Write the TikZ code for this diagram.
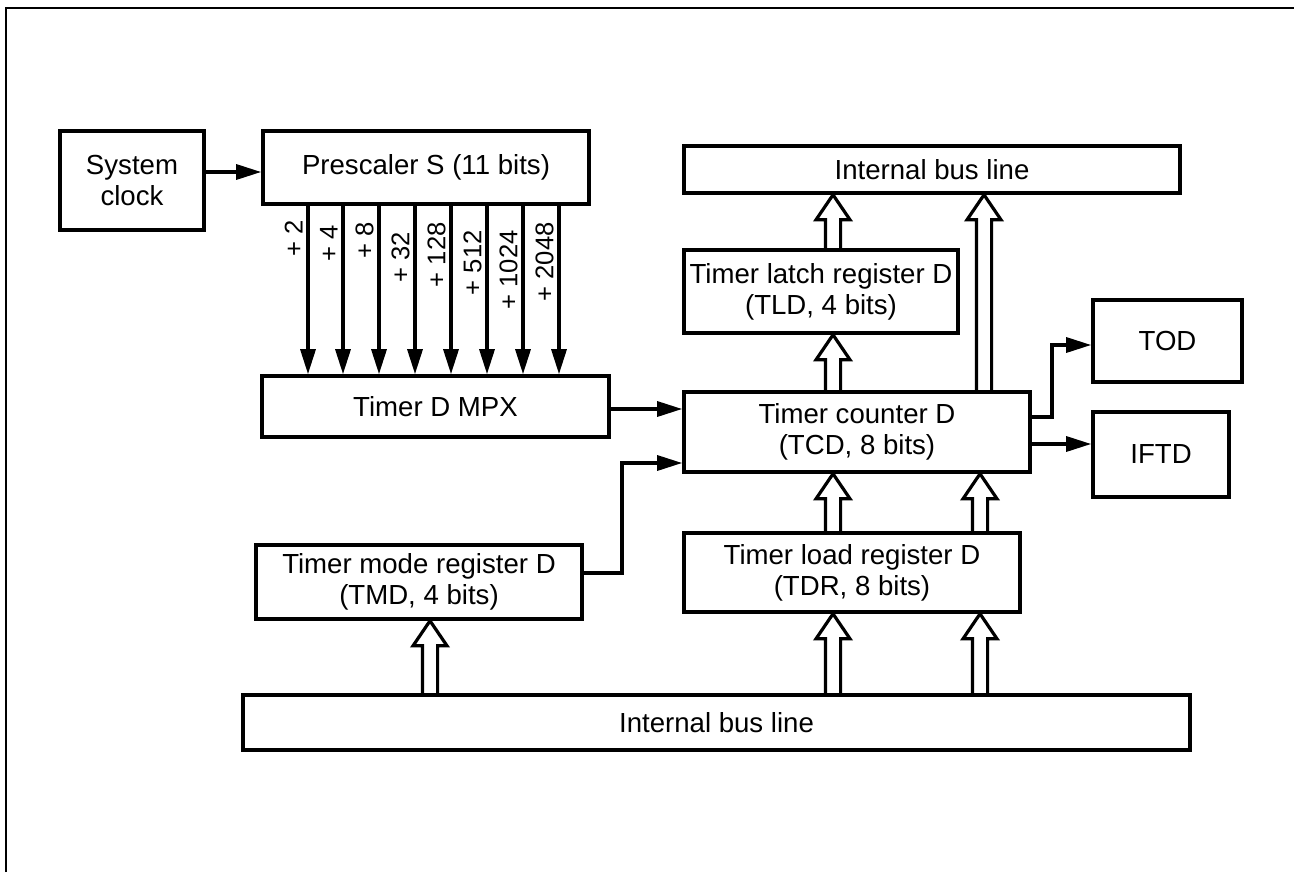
\documentclass[tikz,border=0pt]{standalone}
\usepackage{fontspec}
\setmainfont{Liberation Sans}
\usetikzlibrary{arrows.meta,calc}
\tikzset{
  box/.style={draw, line width=1.8pt, align=center, inner sep=0pt,
    font=\fontsize{13.8}{15.5}\selectfont},
  arr/.style={line width=1.6pt, -{Triangle[length=12.5pt,width=7.5pt]}},
  fat/.style={line width=1.6pt, line join=miter},
  lab/.style={font=\fontsize{12.8}{14}\selectfont, inner sep=0pt, rotate=90, anchor=south east}
}
\newcommand\fatup[2]{%
  \draw[fat] let \p1=(#1), \p2=(#2) in
    (\x1-3.8pt,\y1) -- (\x1-3.8pt,\y2-12.5pt) -- (\x1-8.5pt,\y2-12.5pt) -- (\x2,\y2)
    -- (\x1+8.5pt,\y2-12.5pt) -- (\x1+3.8pt,\y2-12.5pt) -- (\x1+3.8pt,\y1);}
\begin{document}
\begin{tikzpicture}[x=0.5pt,y=-0.5pt]
\useasboundingbox (0,0) rectangle (1294,872);
% frame
\draw[line width=1.2pt] (6,872) -- (6,8) -- (1294,8);
% boxes
\node[box, minimum width=72pt, minimum height=49.5pt] (clk) at (132,180.5) {System\\clock};
\node[box, minimum width=163pt, minimum height=36.5pt] (pre) at (426,167.5) {Prescaler S (11 bits)};
\node[box, minimum width=173.5pt, minimum height=30.5pt] (mpx) at (435.5,406.5) {Timer D MPX};
\node[box, minimum width=248pt, minimum height=23.5pt] (busT) at (932,169.5) {Internal bus line};
\node[box, minimum width=137pt, minimum height=41.5pt] (tld) at (821,291.5) {Timer latch register D\\(TLD, 4 bits)};
\node[box, minimum width=173pt, minimum height=40pt] (tcd) at (857,432) {Timer counter D\\(TCD, 8 bits)};
\node[box, minimum width=168pt, minimum height=39.5pt] (tdr) at (852,572.5) {Timer load register D\\(TDR, 8 bits)};
\node[box, minimum width=163pt, minimum height=37pt] (tmd) at (419,582) {Timer mode register D\\(TMD, 4 bits)};
\node[box, minimum width=473.5pt, minimum height=27.5pt] (busB) at (716.5,722.5) {Internal bus line};
\node[box, minimum width=74.5pt, minimum height=41pt] (tod) at (1167.5,341) {TOD};
\node[box, minimum width=68pt, minimum height=42.5pt] (iftd) at (1161,454.5) {IFTD};
% helper coordinates
\coordinate (r1) at (0,172);
\coordinate (r2) at (0,409);
\coordinate (k0) at (0,573);
\coordinate (k1) at (622,463);
\coordinate (k2) at (0,417);
\coordinate (k3) at (1052,345);
\coordinate (k4) at (0,444);
\coordinate (c1) at (833,0);
\coordinate (c2) at (984,0);
\coordinate (c3) at (980,0);
\coordinate (c4) at (430,0);
% plain arrows
\draw[arr] (clk.east |- r1) -- (pre.west |- r1);
\draw[arr] (mpx.east |- r2) -- (tcd.west |- r2);
\draw[arr] (tmd.east |- k0) -| (k1) -- (tcd.west |- k1);
\draw[arr] (tcd.east |- k2) -| (k3) -- (tod.west |- k3);
\draw[arr] (tcd.east |- k4) -- (iftd.west |- k4);
% divider arrows and labels
\foreach \i/\x/\t/\y in {1/308/2/220, 2/343/4/225, 3/379/8/222, 4/415/32/232,
                          5/451/128/222, 6/487/512/230, 7/523/1024/230, 8/559/2048/222} {
  \coordinate (d\i) at (\x,0);
  \draw[arr] (pre.south -| d\i) -- (mpx.north -| d\i);
  \node[lab] (l\i) at (\x-5,\y) {+ \t};
}
% bus arrows
\fatup{tld.north -| c1}{busT.south -| c1}
\fatup{tcd.north -| c2}{busT.south -| c2}
\fatup{tcd.north -| c1}{tld.south -| c1}
\fatup{tdr.north -| c1}{tcd.south -| c1}
\fatup{tdr.north -| c3}{tcd.south -| c3}
\fatup{busB.north -| c1}{tdr.south -| c1}
\fatup{busB.north -| c3}{tdr.south -| c3}
\fatup{busB.north -| c4}{tmd.south -| c4}
\end{tikzpicture}
\end{document}
